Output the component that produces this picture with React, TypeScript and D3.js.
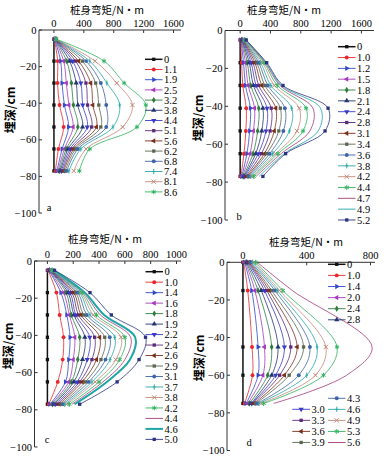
import React from 'react';
import * as d3 from 'd3';

// depths (cm) where the moments were measured
const depthsABC = [-5, -17, -29, -41, -53, -65, -77];
const depthsD = [0, -15, -45, -60, -75];

// legend labels (load levels)
const loadsA = ['0', '1.1', '1.9', '2.5', '3.2', '3.8', '4.4', '5.1', '5.6', '6.2', '6.8', '7.4', '8.1', '8.6'];
const loadsB = ['0', '1.0', '1.2', '1.5', '1.8', '2.1', '2.4', '2.8', '3.1', '3.4', '3.6', '3.8', '4.2', '4.4', '4.7', '4.9', '5.2'];
const loadsC = ['0', '1.0', '1.4', '1.6', '1.8', '1.9', '2.2', '2.4', '2.6', '2.9', '3.1', '3.7', '3.8', '4.2', '4.4', '4.6', '5.0'];
const loadsD = ['0', '1.0', '1.4', '2.0', '2.4', '2.8', '3.0', '3.3', '3.6', '3.9', '4.3', '4.6', '4.9', '5.3', '5.6'];

// moments (N·m): one row per depth, one column per load level
const momentsA = [
  [0, 5, 8, 10, 12, 14, 16, 18, 20, 22, 24, 26, 28, 30],
  [0, 50, 90, 130, 170, 210, 250, 290, 330, 380, 430, 480, 550, 670],
  [0, 48, 108, 166, 234, 297, 360, 428, 492, 559, 627, 708, 840, 940],
  [0, 75, 140, 200, 260, 320, 385, 450, 520, 600, 700, 880, 1050, 1230],
  [0, 130, 196, 256, 319, 383, 446, 505, 568, 627, 700, 790, 920, 1110],
  [0, 60, 110, 140, 165, 190, 215, 240, 265, 290, 320, 360, 430, 480],
  [0, 20, 40, 55, 70, 85, 100, 115, 130, 150, 170, 200, 265, 340],
];
const momentsB = [
  [0, 5, 10, 15, 20, 25, 30, 35, 40, 45, 50, 55, 60, 65, 70, 75, 80],
  [0, 20, 45, 70, 95, 120, 145, 170, 195, 220, 245, 270, 295, 315, 330, 340, 350],
  [0, 35, 70, 105, 140, 175, 210, 245, 285, 325, 365, 405, 450, 490, 525, 545, 565],
  [0, 80, 135, 190, 245, 300, 355, 410, 470, 530, 590, 680, 780, 870, 960, 1060, 1160],
  [0, 75, 125, 175, 230, 285, 340, 395, 450, 510, 570, 650, 750, 830, 920, 1030, 1120],
  [0, 50, 90, 130, 170, 205, 240, 280, 320, 350, 390, 430, 470, 500, 540, 580, 600],
  [0, 10, 20, 30, 40, 50, 60, 75, 90, 105, 120, 140, 160, 180, 210, 250, 300],
];
const momentsC = [
  [0, 5, 10, 12, 15, 18, 20, 22, 25, 28, 30, 33, 36, 40, 45, 50, 55],
  [0, 70, 105, 125, 145, 160, 175, 190, 205, 220, 235, 250, 260, 270, 280, 290, 330],
  [0, 95, 150, 170, 185, 205, 220, 240, 260, 280, 305, 330, 355, 380, 410, 440, 495],
  [0, 125, 175, 212, 250, 290, 328, 366, 405, 444, 483, 522, 570, 600, 645, 680, 760],
  [0, 118, 165, 200, 235, 272, 308, 345, 380, 415, 450, 485, 530, 560, 600, 640, 710],
  [0, 80, 140, 165, 185, 205, 230, 250, 270, 295, 320, 345, 370, 400, 430, 460, 540],
  [0, 10, 20, 30, 40, 50, 60, 75, 90, 105, 120, 135, 150, 170, 190, 210, 250],
];
const momentsD = [
  [0, 5, 10, 15, 20, 25, 30, 35, 40, 45, 50, 60, 70, 80, 90],
  [0, 30, 55, 75, 95, 115, 135, 150, 165, 180, 200, 215, 230, 250, 310],
  [0, 57, 95, 135, 180, 220, 260, 300, 340, 380, 420, 465, 520, 590, 810],
  [0, 60, 95, 125, 155, 180, 205, 230, 260, 290, 350, 400, 455, 505, 650],
  [0, 10, 20, 30, 40, 50, 55, 60, 70, 80, 90, 100, 115, 130, 193],
];

const yTicks = [0, -20, -40, -60, -80, -100];

// colour / marker per series index (Origin-like cycle)
const STYLES = [
  { c: '#111111', m: 'square', w: 1.5 },
  { c: '#e8262b', m: 'circle' },
  { c: '#2f49c9', m: 'triR' },
  { c: '#a53bbd', m: 'triL' },
  { c: '#2e7d3c', m: 'diamond' },
  { c: '#23356e', m: 'triU' },
  { c: '#3a3ac8', m: 'triD' },
  { c: '#5a2a7a', m: 'square' },
  { c: '#7b2f1a', m: 'triL' },
  { c: '#5b6650', m: 'square' },
  { c: '#3d64a8', m: 'circle' },
  { c: '#2aa7a7', m: 'bar' },
  { c: '#c48a7a', m: 'times' },
  { c: '#2fb35f', m: 'aster' },
  { c: '#a23b78', m: 'none' },
  { c: '#1fa5a5', m: 'none' },
  { c: '#2a3280', m: 'square' },
];

const SERIF = '"Liberation Serif", "Times New Roman", serif';
const CJK = '"Noto Sans CJK SC", sans-serif';
const FS = 10.5;

const Marker = ({ type, x, y, color }) => {
  if (type === 'none') return null;
  const t = `translate(${x},${y})`;
  if (type === 'bar') return <path d="M0,-2.6V2.6M-1.4,0H1.4" transform={t} stroke={color} strokeWidth={1} fill="none" />;
  if (type === 'times') return <path d={d3.symbol(d3.symbolTimes, 14)()} transform={t} stroke={color} strokeWidth={1} fill="none" />;
  if (type === 'aster') return <path d={d3.symbol(d3.symbolAsterisk, 16)()} transform={t} stroke={color} strokeWidth={1} fill="none" />;
  let sym: any = d3.symbolSquare, size = 11, rot = 0;
  if (type === 'circle') { sym = d3.symbolCircle; size = 12; }
  if (type === 'diamond') { sym = d3.symbolDiamond; size = 12; }
  if (type.startsWith('tri')) {
    sym = d3.symbolTriangle; size = 12;
    rot = { triU: 0, triR: 90, triD: 180, triL: -90 }[type];
  }
  return <path d={d3.symbol(sym, size)()} transform={`${t} rotate(${rot})`} fill={color} />;
};

const Panel = ({ cfg }) => {
  const x = d3.scaleLinear().domain(cfg.xDom).range(cfg.xR);
  const y = d3.scaleLinear().domain([-100, 0]).range(cfg.yR);
  const line = d3.line<number[]>()
    .x((d) => x(d[0]))
    .y((d) => y(d[1]))
    .curve(d3.curveCatmullRom.alpha(0.5));

  const series = cfg.loads.map((name, i) => ({
    name,
    st: { ...STYLES[i], ...(cfg.over && cfg.over[i]) },
    pts: cfg.depths.map((dep, k) => [cfg.vals[k][i], dep]),
  }));

  const ax = cfg.xR[0];
  const ay = cfg.yR[1];

  return (
    <g>
      {/* title + y label */}
      <text x={cfg.title[0]} y={cfg.title[1]} textAnchor="middle" fontFamily={CJK} fontSize={10.5}>桩身弯矩/N·m</text>
      <text transform={`translate(${cfg.ylab[0]},${cfg.ylab[1]}) rotate(-90)`} textAnchor="middle" dy="0.35em" fontFamily={CJK} fontSize={12} fontWeight="bold">埋深/cm</text>

      {/* axes */}
      <line x1={ax} x2={ax} y1={ay} y2={cfg.yR[0]} stroke="#333" strokeWidth={1} />
      <line x1={ax} x2={cfg.xEnd} y1={ay} y2={ay} stroke="#333" strokeWidth={1} />
      {yTicks.map((t) => (
        <g key={'y' + t}>
          <line x1={ax} x2={ax + 3} y1={y(t)} y2={y(t)} stroke="#333" />
          <text x={ax - 2.5} y={y(t)} dy="0.35em" textAnchor="end" fontFamily={SERIF} fontSize={FS}>
            {t === 0 ? '0' : '−' + Math.abs(t)}
          </text>
        </g>
      ))}
      {cfg.xTicks.map((t) => (
        <g key={'x' + t}>
          <line x1={x(t)} x2={x(t)} y1={ay} y2={ay + 3} stroke="#333" />
          <text x={x(t)} y={ay - 3.5} textAnchor="middle" fontFamily={SERIF} fontSize={FS}>{t}</text>
        </g>
      ))}
      <text x={cfg.letter[0]} y={cfg.letter[1]} textAnchor="middle" fontFamily={SERIF} fontSize={FS}>{cfg.id}</text>

      {/* curves */}
      {series.map((s) => (
        <path key={'l' + s.name} d={line(s.pts)} fill="none" stroke={s.st.c} strokeWidth={s.st.w || 0.8} />
      ))}
      {series.map((s) =>
        s.pts.map((p, k) => (
          <Marker key={s.name + '-' + k} type={s.st.m} x={x(p[0])} y={y(p[1])} color={s.st.c} />
        ))
      )}

      {/* legend */}
      {series.map((s, i) => {
        const L = cfg.legend(i);
        return (
          <g key={'lg' + s.name}>
            <line x1={L.x1} x2={L.x2} y1={L.y} y2={L.y} stroke={s.st.c} strokeWidth={s.st.w || 0.9} />
            <Marker type={s.st.m} x={(L.x1 + L.x2) / 2} y={L.y} color={s.st.c} />
            <text x={L.x2 + 1.5} y={L.y} dy="0.35em" fontFamily={SERIF} fontSize={FS}>{s.name}</text>
          </g>
        );
      })}
    </g>
  );
};

const legendD = (i) => {
  if (i < 6) return { x1: 328, x2: 345.5, y: 264.3 + i * 11.1 };
  if (i < 10) return { x1: 292.3, x2: 310, y: 409.3 + (i - 6) * 11.05 };
  return { x1: 328, x2: 345.5, y: 398.3 + (i - 10) * 11.05 };
};

const panels = [
  {
    id: 'a', loads: loadsA, vals: momentsA, depths: depthsABC,
    xDom: [-200, 1700], xR: [39, 181], xEnd: 181, yR: [213, 30],
    xTicks: [0, 400, 800, 1200, 1600], title: [107, 14], ylab: [11, 110], letter: [49, 211],
    legend: (i) => ({ x1: 145, x2: 162.5, y: 59.3 + i * 10.2 }),
  },
  {
    id: 'b', loads: loadsB, vals: momentsB, depths: depthsABC,
    xDom: [-200, 1700], xR: [225, 369], xEnd: 374, yR: [220, 30.5],
    xTicks: [0, 400, 800, 1200, 1600], title: [284, 14], ylab: [199, 118], letter: [239, 220],
    legend: (i) => ({ x1: 338, x2: 355.5, y: 46.7 + i * 10.83 }),
  },
  {
    id: 'c', loads: loadsC, vals: momentsC, depths: depthsABC,
    xDom: [-100, 1000], xR: [34.5, 176.5], xEnd: 181, yR: [447, 261],
    xTicks: [0, 200, 400, 600, 800, 1000], title: [105, 243], ylab: [9, 346], letter: [47, 443],
    legend: (i) => ({ x1: 145.5, x2: 163, y: 271.7 + i * 10.48 }),
    over: { 15: { w: 2 } },
  },
  {
    id: 'd', loads: loadsD, vals: momentsD, depths: depthsD,
    xDom: [-100, 800], xR: [227, 370.5], xEnd: 375, yR: [450.5, 262.3],
    xTicks: [0, 400, 800], title: [306, 246], ylab: [200, 358], letter: [249, 446],
    legend: legendD,
  },
];

export default function App() {
  return (
    <svg width={388} height={460} style={{ position: 'absolute', left: 0, top: 0, background: '#fff' }}>
      {panels.map((p) => (
        <Panel key={p.id} cfg={p} />
      ))}
    </svg>
  );
}
